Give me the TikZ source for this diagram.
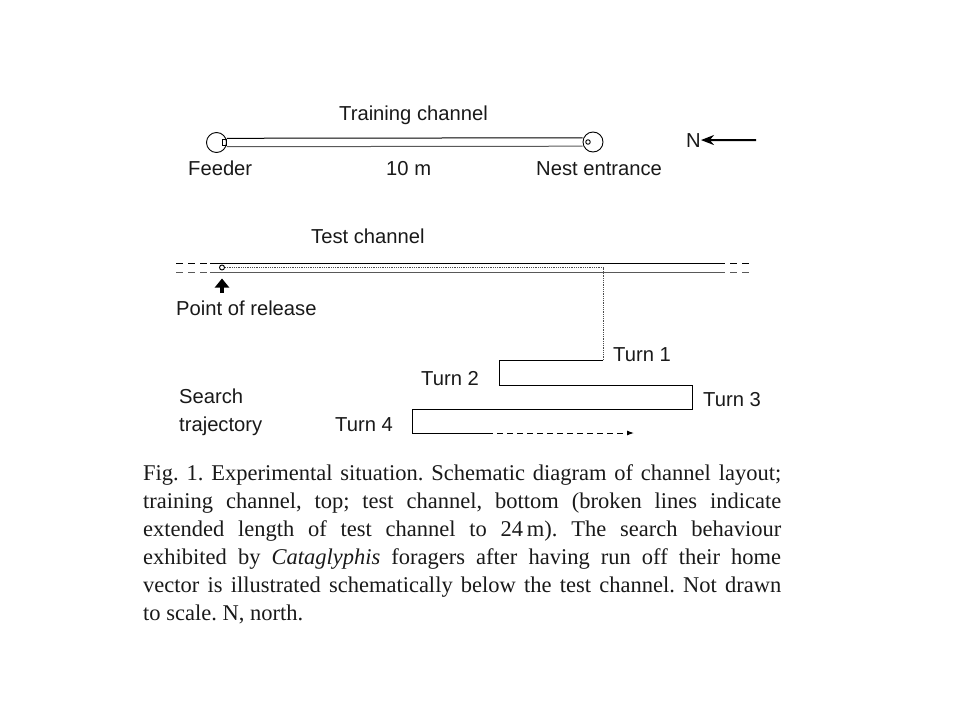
\documentclass[tikz,border=0pt]{standalone}
\usepackage{fontspec}
\setmainfont{Liberation Serif}
\setsansfont{Liberation Sans}
\usetikzlibrary{arrows.meta}
\begin{document}
\begin{tikzpicture}[x=1pt,y=-1pt,
  lbl/.style={font=\sffamily\fontsize{20.2}{22}\selectfont, anchor=base west, inner sep=0pt, text=black!90},
  chanline/.style={line width=1pt},
  chanlow/.style={line width=1pt, draw=black!65},
  extdash/.style={line width=1pt, dash pattern=on 7pt off 5pt},
  ring/.style={circle, draw, inner sep=0pt, line width=0.9pt},
  pathline/.style={line width=1pt},
  dotline/.style={line width=0.8pt, densely dotted, draw=black!70},
  caption/.style={anchor=north west, inner sep=0pt, text width=638pt, align=justify,
    font=\rmfamily\fontsize{22.5}{28}\selectfont, text=black!90}]
\useasboundingbox (0,0) rectangle (960,720);

% ---------- training channel ----------
\node[ring, minimum size=20pt] (feeder) at (216.5,142.5) {};
\node[draw, inner sep=0pt, minimum width=4pt, minimum height=6pt, line width=0.8pt] (box) at (224,142.5) {};
\node[ring, minimum size=20pt] (nest) at (593,142) {};
\node[ring, minimum size=4.5pt] (hole) at (588,142) {};
\draw[chanline] ([yshift=4.2pt]feeder.east) -- ([yshift=4.2pt]nest.west);
\draw[chanlow] ([yshift=-4.2pt]feeder.east) -- ([yshift=-4.2pt]nest.west);

\node[lbl] (ttl) at (339,120) {Training channel};
\node[lbl] (fdr) at (188,175) {Feeder};
\node[lbl] (len) at (386,175) {10 m};
\node[lbl] (nst) at (536,175) {Nest entrance};

% north arrow
\node[lbl] (N) at (686,147) {N};
\coordinate (ntail) at (756,140);
\draw[line width=2pt, -{Stealth[length=13pt,width=10pt]}] (ntail) -- (N.east);

% ---------- test channel ----------
\coordinate (tL) at (210,263);
\coordinate (tR) at (718,263);
\coordinate (bL) at (210,272);
\coordinate (bR) at (718,272);
\coordinate (tLL) at (176,263);
\coordinate (tRR) at (752,263);
\coordinate (bLL) at (176,272);
\coordinate (bRR) at (752,272);
\draw[chanline] (tL) -- (tR);
\draw[chanlow] (bL) -- (bR);
\draw[extdash] (tLL) -- (tL);
\draw[extdash] (tR) -- (tRR);
\draw[extdash, draw=black!65] (bLL) -- (bL);
\draw[extdash, draw=black!65] (bR) -- (bRR);

\node[lbl] (tst) at (311,243) {Test channel};

% release point
\node[ring, minimum size=5pt] (rel) at (222,267.5) {};
\coordinate (rtail) at (222,293);
\coordinate (rtip) at (222,278.5);
\draw[line width=3.5pt, -{Triangle[length=9pt,width=14pt]}] (rtail) -- (rtip);
\node[lbl] (por) at (176,315) {Point of release};

% search trajectory
\coordinate (d1) at (603,267.5);
\coordinate (t1) at (603,360);
\coordinate (p1) at (499,360);
\coordinate (t2) at (499,385);
\coordinate (p2) at (692,385);
\coordinate (t3) at (692,409);
\coordinate (p3) at (412,409);
\coordinate (t4) at (412,433);
\coordinate (p4) at (487,433);
\coordinate (pend) at (634,433);
\draw[dotline] (rel.east) -- (d1) -- (t1);
\draw[pathline] (t1) -- (p1) -- (t2) -- (p2) -- (t3) -- (p3) -- (t4) -- (p4);
\draw[line width=1pt, dash pattern=on 6pt off 4pt, -{Latex[length=7pt,width=5pt]}] (p4) -- (pend);

\node[lbl] (T1) at (613,361.5) {Turn 1};
\node[lbl] (T2) at (421,385) {Turn 2};
\node[lbl] (T3) at (703,406) {Turn 3};
\node[lbl] (T4) at (335,431.5) {Turn 4};
\node[lbl] (s1) at (179,403) {Search};
\node[lbl] (s2) at (179,431.5) {trajectory};

% ---------- caption ----------
\node[caption] (cap) at (143,460.4) {\frenchspacing\strut Fig. 1. Experimental situation. Schematic diagram of channel layout;\linebreak
training channel, top; test channel, bottom (broken lines indicate\linebreak
extended length of test channel to 24\,m). The search behaviour\linebreak
exhibited by \emph{Cataglyphis} foragers after having run off their home\linebreak
vector is illustrated schematically below the test channel. Not drawn\linebreak
to scale. N, north.};
\end{tikzpicture}
\end{document}
